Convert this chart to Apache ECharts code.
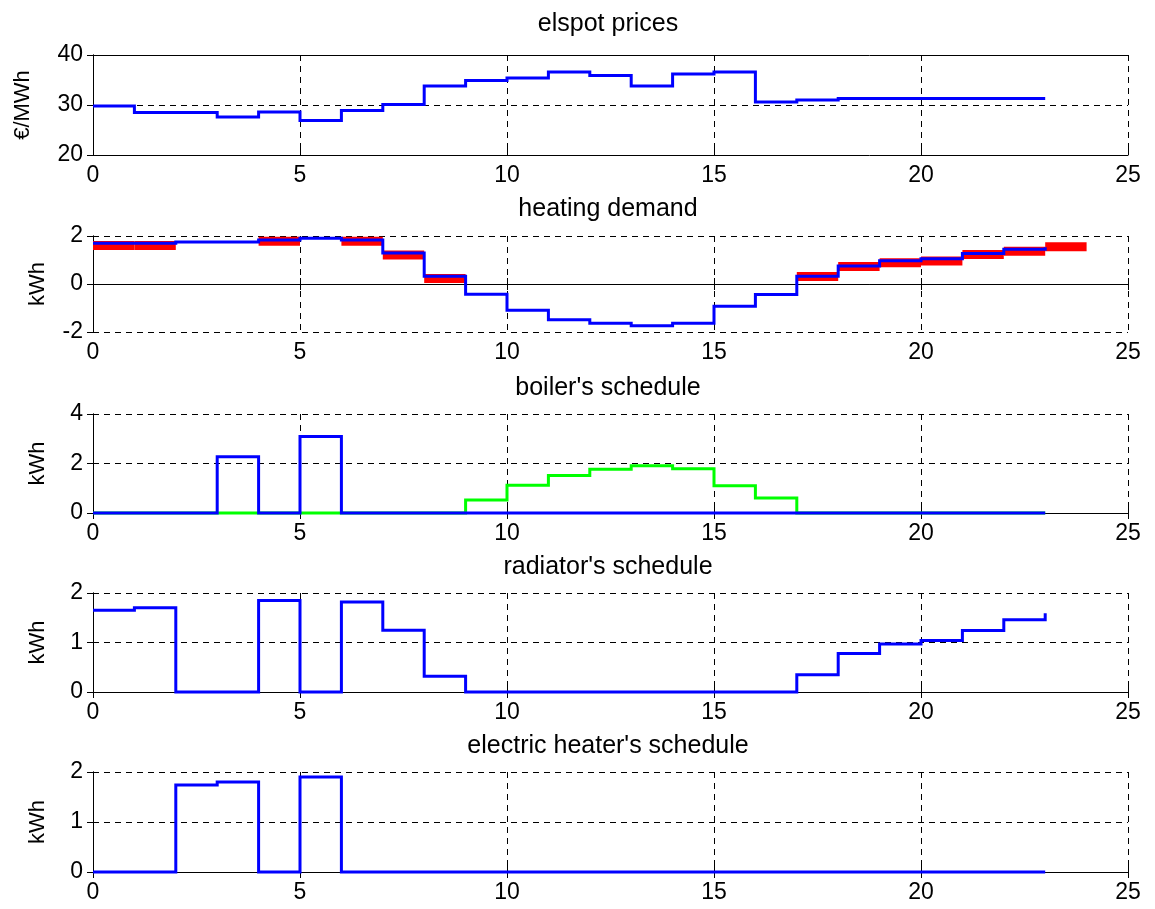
<!DOCTYPE html>
<html>
<head>
<meta charset="utf-8">
<script src="https://cdn.jsdelivr.net/npm/echarts@6/dist/echarts.min.js"></script>
<style>
html,body{margin:0;padding:0;background:#fff;}
#chart{width:1155px;height:909px;}
</style>
</head>
<body>
<div id="chart"></div>
<script>
// ---- data ----
const hours = [0,1,2,3,4,5,6,7,8,9,10,11,12,13,14,15,16,17,18,19,20,21,22,23];
const titles = ["elspot prices", "heating demand", "boiler's schedule", "radiator's schedule", "electric heater's schedule"];
const yNames = ["€/MWh", "kWh", "kWh", "kWh", "kWh"];
const xTicks = [0, 5, 10, 15, 20, 25];
const yRanges = [[20, 40, 10], [-2, 2, 2], [0, 4, 2], [0, 2, 1], [0, 2, 1]];

const priceVals = [29.8,28.5,28.5,27.6,28.6,26.9,28.9,30.1,33.8,34.9,35.4,36.6,35.9,33.8,36.2,36.6,30.6,31.0,31.3,31.3,31.3,31.3,31.3,31.3];
const demandVals = [1.70,1.70,1.75,1.75,1.83,1.91,1.83,1.29,0.32,-0.43,-1.09,-1.49,-1.64,-1.74,-1.64,-0.93,-0.44,0.32,0.75,0.97,1.05,1.27,1.45,1.53];
const demandRefHours = [0,1,4,6,7,8,17,18,19,20,21,22,23];
const demandRefVals = [1.60,1.60,1.78,1.78,1.21,0.23,0.31,0.73,0.89,0.96,1.23,1.36,1.55];
const boilerVals = [0,0,0,2.27,0,3.09,0,0,0,0,0,0,0,0,0,0,0,0,0,0,0,0,0,0];
const heatPumpVals = [0,0,0,0,0,0,0,0,0,0.53,1.12,1.52,1.77,1.91,1.79,1.10,0.61,0,0,0,0,0,0,0];
const radiatorVals = [1.65,1.70,0,0,1.85,0,1.82,1.25,0.32,0,0,0,0,0,0,0,0,0.35,0.78,0.97,1.04,1.24,1.46,1.59];
const heaterVals = [0,0,1.74,1.80,0,1.90,0,0,0,0,0,0,0,0,0,0,0,0,0,0,0,0,0,0];

// ---- layout ----
const FONT = "'Liberation Sans', Arial, sans-serif";
const gridBox = [
  {top: 55, height: 100},
  {top: 236, height: 96},
  {top: 414, height: 99},
  {top: 593, height: 99},
  {top: 772, height: 100}
];
const titleTops = [7, 192, 371, 550, 729];
const nameGaps = [59, 44, 44, 44, 44];
const LEFT = 93, RIGHT = 27;

// stairs (MATLAB-style): hold each value until next hour, last value is a point
const stairs = vals => {
  const out = [];
  hours.forEach((h, i) => {
    out.push([h, vals[i]]);
    if (i < hours.length - 1) out.push([hours[i + 1], vals[i]]);
  });
  return out;
};

const grids = [], xAxes = [], yAxes = [], series = [], titleArr = [];
const axisLine = {show: true, lineStyle: {color: '#000', width: 1}};
const tick = {show: true, inside: true, length: 6, lineStyle: {color: '#000'}};
const split = {show: true, lineStyle: {color: '#000', type: [6, 5], width: 1}};
const label = {color: '#000', fontSize: 23, fontFamily: FONT};

gridBox.forEach((g, i) => {
  grids.push({left: LEFT, right: RIGHT, top: g.top, height: g.height, containLabel: false});
  titleArr.push({text: titles[i], left: 603, top: titleTops[i], textAlign: 'center',
    textStyle: {color: '#000', fontSize: 25, fontWeight: 'normal', fontFamily: FONT}});
  xAxes.push({type: 'value', gridIndex: i, min: 0, max: 25, interval: 5, position: 'bottom',
    axisLine, axisTick: tick, splitLine: split, axisLabel: Object.assign({margin: 9}, label)});
  xAxes.push({type: 'value', gridIndex: i, min: 0, max: 25, interval: 5, position: 'top',
    axisLine, axisTick: tick, splitLine: {show: false}, axisLabel: {show: false}});
  const r = yRanges[i];
  yAxes.push({type: 'value', gridIndex: i, min: r[0], max: r[1], interval: r[2], position: 'left',
    name: yNames[i], nameLocation: 'middle', nameRotate: 90, nameGap: nameGaps[i],
    nameTextStyle: {color: '#000', fontSize: 22, fontFamily: FONT},
    axisLine, axisTick: tick, splitLine: split, axisLabel: Object.assign({margin: 10}, label)});
  yAxes.push({type: 'value', gridIndex: i, min: r[0], max: r[1], interval: r[2], position: 'right',
    axisLine, axisTick: tick, splitLine: {show: false}, axisLabel: {show: false}});
});

// one polyline per series, points mapped through the axes (api.coord)
const stairSeries = (gi, vals, color, z) => {
  const pts = stairs(vals);
  return {
    type: 'custom', xAxisIndex: gi * 2, yAxisIndex: gi * 2, data: pairs(vals), z, silent: true,
    clip: false, animation: false,
    renderItem: (params, api) => {
      if (params.dataIndex !== 0) return null;
      return {type: 'polyline', shape: {points: pts.map(p => api.coord(p))},
        style: {stroke: color, lineWidth: 3, fill: null, lineJoin: 'miter', lineCap: 'butt'}};
    }
  };
};
function pairs(vals) { return hours.map((h, i) => [h, vals[i]]); }

const redSeries = {
  type: 'custom', xAxisIndex: 2, yAxisIndex: 2, data: demandRefHours.map((h, i) => [h, demandRefVals[i]]),
  z: 2, silent: true, clip: false, animation: false,
  renderItem: (params, api) => {
    const h = api.value(0), v = api.value(1);
    const a = api.coord([h, v]), b = api.coord([h + 1, v]);
    return {type: 'line', shape: {x1: a[0], y1: a[1], x2: b[0], y2: b[1]},
      style: {stroke: '#ff0000', lineWidth: 9, lineCap: 'butt'}};
  }
};

series.push(stairSeries(0, priceVals, '#0000ff', 3));
series.push(redSeries);
series.push(stairSeries(1, demandVals, '#0000ff', 3));
series.push(stairSeries(2, heatPumpVals, '#00ff00', 2));
series.push(stairSeries(2, boilerVals, '#0000ff', 3));
series.push(stairSeries(3, radiatorVals, '#0000ff', 3));
series.push(stairSeries(4, heaterVals, '#0000ff', 3));

const chart = echarts.init(document.getElementById('chart'), null, {renderer: 'canvas'});
chart.setOption({
  backgroundColor: '#fff',
  animation: false,
  title: titleArr,
  grid: grids,
  xAxis: xAxes,
  yAxis: yAxes,
  series
});
</script>
</body>
</html>
